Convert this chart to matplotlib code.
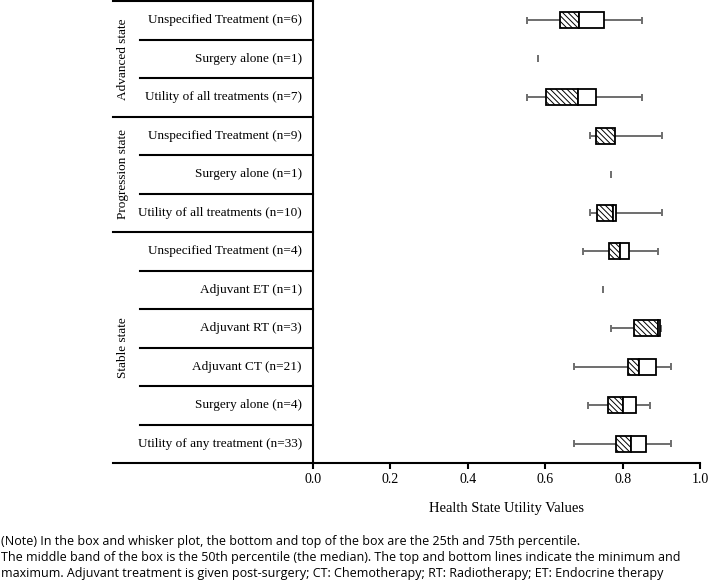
import matplotlib
matplotlib.use("Agg")
import matplotlib.pyplot as plt

# ---- data (top row first) ----
row_labels = [
    "Unspecified Treatment (n=6)",
    "Surgery alone (n=1)",
    "Utility of all treatments (n=7)",
    "Unspecified Treatment (n=9)",
    "Surgery alone (n=1)",
    "Utility of all treatments (n=10)",
    "Unspecified Treatment (n=4)",
    "Adjuvant ET (n=1)",
    "Adjuvant RT (n=3)",
    "Adjuvant CT (n=21)",
    "Surgery alone (n=4)",
    "Utility of any treatment (n=33)",
]
wmin = [0.552, 0.581, 0.552, 0.717, 0.769, 0.717, 0.697, 0.750, 0.770, 0.674, 0.711, 0.674]
q1   = [0.637, 0.581, 0.603, 0.730, 0.769, 0.733, 0.766, 0.750, 0.830, 0.815, 0.762, 0.783]
med  = [0.687, 0.581, 0.686, 0.781, 0.769, 0.776, 0.792, 0.750, 0.891, 0.842, 0.802, 0.822]
q3   = [0.753, 0.581, 0.732, 0.781, 0.769, 0.782, 0.817, 0.750, 0.897, 0.886, 0.834, 0.860]
wmax = [0.851, 0.581, 0.851, 0.902, 0.769, 0.902, 0.891, 0.750, 0.899, 0.925, 0.871, 0.925]

groups = ["Advanced state", "Progression state", "Stable state"]
group_start = [0, 3, 6]
group_end = [3, 6, 12]

xticks = [0.0, 0.2, 0.4, 0.6, 0.8, 1.0]
xlabel = "Health State Utility Values"
note = ("(Note) In the box and whisker plot, the bottom and top of the box are the 25th and 75th percentile.\n"
        "The middle band of the box is the 50th percentile (the median). The top and bottom lines indicate the minimum and\n"
        "maximum. Adjuvant treatment is given post-surgery; CT: Chemotherapy; RT: Radiotherapy; ET: Endocrine therapy")

plt.rcParams['hatch.linewidth'] = 0.7
plt.rcParams['hatch.color'] = '#222222'

W, H = 708, 581
fig = plt.figure(figsize=(W / 100, H / 100), dpi=100)
ax_left, ax_right, ax_top, ax_bot = 313, 700, 1, 463
ax = fig.add_axes([ax_left / W, 1 - ax_bot / H, (ax_right - ax_left) / W, (ax_bot - ax_top) / H])

serif = "Liberation Serif"
n = len(row_labels)
ys = [i + 0.5 for i in range(n)]
gray = "#6e6e6e"
bh = 0.41
cap = 0.18

for y, a, b, m, c, d in zip(ys, wmin, q1, med, q3, wmax):
    if a == d:
        ax.vlines(a, y - cap / 2, y + cap / 2, color=gray, lw=1.4, zorder=3)
        continue
    ax.hlines(y, a, b, color=gray, lw=1.4, zorder=2)
    ax.hlines(y, c, d, color=gray, lw=1.4, zorder=2)
    ax.vlines([a, d], y - cap / 2, y + cap / 2, color=gray, lw=1.4, zorder=2)
    ax.barh(y, m - b, left=b, height=bh, color="white", edgecolor="black",
            hatch="\\\\\\\\\\\\", lw=1.3, zorder=3)
    if c > m:
        ax.barh(y, c - m, left=m, height=bh, color="white", edgecolor="black",
                lw=1.3, zorder=3)

ax.set_xlim(0, 1)
ax.set_ylim(n, 0)
ax.set_yticks([])
ax.set_xticks(xticks)
ax.set_xticklabels([f"{t:.1f}" for t in xticks], fontfamily=serif, fontsize=10)
ax.tick_params(axis="x", direction="out", length=4, width=1.5, pad=3.5)
for s in ["top", "right"]:
    ax.spines[s].set_visible(False)
ax.spines["left"].set_linewidth(1.5)
ax.spines["bottom"].set_linewidth(1.5)
ax.set_xlabel(xlabel, fontfamily=serif, fontsize=10.5, labelpad=11)

# left table
tr = ax.get_yaxis_transform()
x_outer = (113 - ax_left) / (ax_right - ax_left)
x_inner = (140 - ax_left) / (ax_right - ax_left)
x_lab = (302 - ax_left) / (ax_right - ax_left)
x_grp = (123 - ax_left) / (ax_right - ax_left)
for gs, ge, g in zip(group_start, group_end, groups):
    ax.plot([x_outer, 0], [gs, gs], transform=tr, color="black", lw=1.5, clip_on=False)
    ax.text(x_grp, (gs + ge) / 2, g, transform=tr, rotation=90, ha="center", va="center",
            fontfamily=serif, fontsize=9.5)
    for k in range(gs + 1, ge):
        ax.plot([x_inner, 0], [k, k], transform=tr, color="black", lw=1.5, clip_on=False)
ax.plot([x_outer, 0], [n, n], transform=tr, color="black", lw=1.5, clip_on=False)
for y, lab in zip(ys, row_labels):
    ax.text(x_lab, y, lab, transform=tr, ha="right", va="center", fontfamily=serif, fontsize=9.5)

fig.text(1 / W, 1 - 534.5 / H, note, ha="left", va="top", fontfamily="Open Sans",
         fontsize=9, linespacing=1.3)

fig.savefig("out.png", dpi=100)
